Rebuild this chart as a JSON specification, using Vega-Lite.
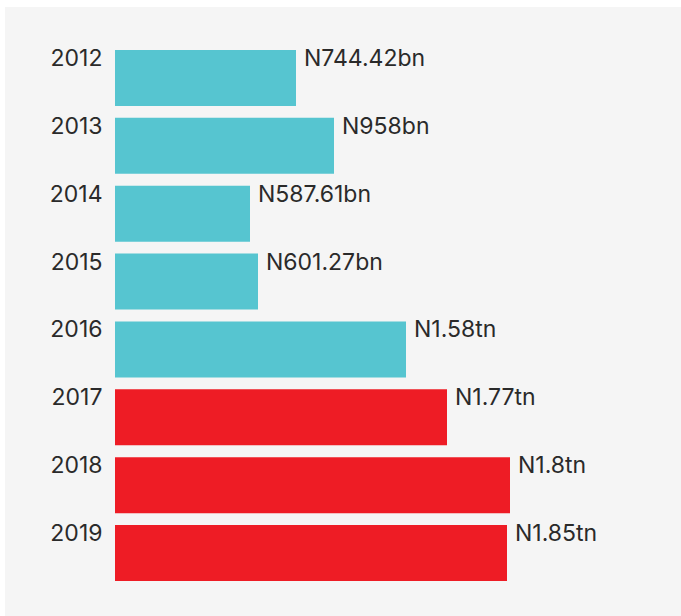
{
  "$schema": "https://vega.github.io/schema/vega-lite/v6.json",
  "autosize": {"type": "none"},
  "width": 676,
  "height": 609,
  "padding": {"left": 5, "top": 7, "right": 0, "bottom": 0},
  "background": "#ffffff",
  "config": {
    "view": {"fill": "#f5f5f5", "stroke": null},
    "font": "Inter"
  },
  "data": {
    "values": [
      {"year": "2012", "length": 181, "label": "N744.42bn", "period": "2012-2016"},
      {"year": "2013", "length": 219, "label": "N958bn", "period": "2012-2016"},
      {"year": "2014", "length": 135, "label": "N587.61bn", "period": "2012-2016"},
      {"year": "2015", "length": 143, "label": "N601.27bn", "period": "2012-2016"},
      {"year": "2016", "length": 291, "label": "N1.58tn", "period": "2012-2016"},
      {"year": "2017", "length": 332, "label": "N1.77tn", "period": "2017-2019"},
      {"year": "2018", "length": 395, "label": "N1.8tn", "period": "2017-2019"},
      {"year": "2019", "length": 392, "label": "N1.85tn", "period": "2017-2019"}
    ]
  },
  "encoding": {
    "y": {
      "field": "year",
      "type": "nominal",
      "sort": null,
      "scale": {"range": [43, 574], "paddingInner": 0.175, "paddingOuter": 0},
      "axis": {
        "title": null,
        "ticks": false,
        "domain": false,
        "offset": -110,
        "labelPadding": 13,
        "labelFont": "Inter",
        "labelFontSize": 23,
        "labelColor": "#2a2a2a",
        "labelBaseline": "alphabetic",
        "labelOffset": -12
      }
    }
  },
  "layer": [
    {
      "mark": {"type": "bar"},
      "encoding": {
        "x": {
          "field": "length",
          "type": "quantitative",
          "scale": {"domain": [0, 566], "range": [110, 676], "nice": false, "zero": true},
          "axis": null
        },
        "color": {
          "field": "period",
          "type": "nominal",
          "scale": {"domain": ["2012-2016", "2017-2019"], "range": ["#56c5d0", "#ee1c25"]},
          "legend": null
        }
      }
    },
    {
      "mark": {"type": "text", "align": "left", "baseline": "alphabetic", "dx": 8, "dy": 16, "font": "Inter", "fontSize": 23, "color": "#2a2a2a"},
      "encoding": {
        "y": {"field": "year", "type": "nominal", "sort": null, "bandPosition": 0},
        "x": {"field": "length", "type": "quantitative"},
        "text": {"field": "label"}
      }
    }
  ]
}
